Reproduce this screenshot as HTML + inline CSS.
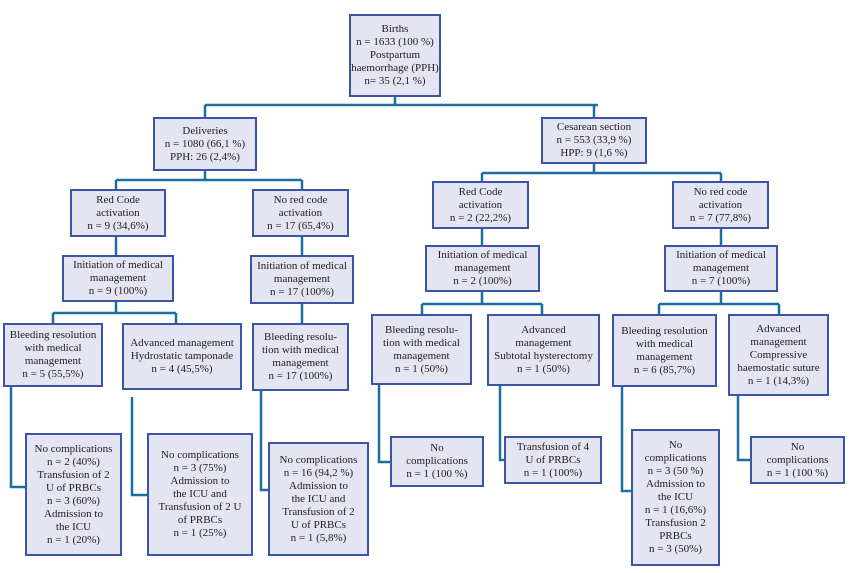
<!DOCTYPE html>
<html><head><meta charset="utf-8"><style>
body{margin:0;width:850px;height:573px;background:#fff;position:relative;overflow:hidden;font-family:"Liberation Serif",serif;}
.b{position:absolute;box-sizing:border-box;background:#e4e4f2;border:2px solid #3b55a6;display:flex;align-items:center;justify-content:center;text-align:center;font-size:11px;line-height:13px;color:#222;}
svg{position:absolute;left:0;top:0}
</style></head><body>
<svg width="850" height="573"><g stroke="#1a6fa0" stroke-width="2.5" fill="none">
<path d="M395 97V105M205 105H598M205 105V117M594 105V117"/>
<path d="M205 171V180M116 180H302M116 180V189M302 180V189"/>
<path d="M116 237V255M302 237V255"/>
<path d="M116 302V313M53 313H176M53 313V323M176 313V323M302 304V323"/>
<path d="M11 387V487H25M132 397V495H147M261 391V490H268"/>
<path d="M594 164V173M482 173H721M482 173V181M721 173V181"/>
<path d="M482 229V245M721 229V245M482 292V304M422 304H542M422 304V314M542 304V314M721 292V304M659 304H779M659 304V314M779 304V314"/>
<path d="M379 385V462H390M500 385V460H504M622 387V491H631M738 396V460H750"/>
</g></svg>
<div class="b" style="left:349px;top:14px;width:92px;height:83px">Births<br>n = 1633 (100 %)<br>Postpartum<br>haemorrhage (PPH)<br>n= 35 (2,1 %)</div>
<div class="b" style="left:153px;top:117px;width:104px;height:54px">Deliveries<br>n = 1080 (66,1 %)<br>PPH: 26 (2,4%)</div>
<div class="b" style="left:541px;top:117px;width:106px;height:47px">Cesarean section<br>n = 553 (33,9 %)<br>HPP: 9 (1,6 %)</div>
<div class="b" style="left:70px;top:189px;width:96px;height:48px">Red Code<br>activation<br>n = 9 (34,6%)</div>
<div class="b" style="left:252px;top:189px;width:97px;height:48px">No red code<br>activation<br>n = 17 (65,4%)</div>
<div class="b" style="left:62px;top:255px;width:112px;height:47px">Initiation of medical<br>management<br>n = 9 (100%)</div>
<div class="b" style="left:250px;top:255px;width:104px;height:49px">Initiation of medical<br>management<br>n = 17 (100%)</div>
<div class="b" style="left:3px;top:323px;width:100px;height:64px">Bleeding resolution<br>with medical<br>management<br>n = 5 (55,5%)</div>
<div class="b" style="left:122px;top:323px;width:120px;height:67px">Advanced management<br>Hydrostatic tamponade<br>n = 4 (45,5%)</div>
<div class="b" style="left:252px;top:323px;width:97px;height:68px">Bleeding resolu-<br>tion with medical<br>management<br>n = 17 (100%)</div>
<div class="b" style="left:25px;top:433px;width:97px;height:123px">No complications<br>n = 2 (40%)<br>Transfusion of 2<br>U of PRBCs<br>n = 3 (60%)<br>Admission to<br>the ICU<br>n = 1 (20%)</div>
<div class="b" style="left:147px;top:433px;width:106px;height:123px">No complications<br>n = 3 (75%)<br>Admission to<br>the ICU and<br>Transfusion of 2 U<br>of PRBCs<br>n = 1 (25%)</div>
<div class="b" style="left:268px;top:442px;width:101px;height:114px">No complications<br>n = 16 (94,2 %)<br>Admission to<br>the ICU and<br>Transfusion of 2<br>U of PRBCs<br>n = 1 (5,8%)</div>
<div class="b" style="left:432px;top:181px;width:97px;height:48px">Red Code<br>activation<br>n = 2 (22,2%)</div>
<div class="b" style="left:672px;top:181px;width:97px;height:48px">No red code<br>activation<br>n = 7 (77,8%)</div>
<div class="b" style="left:425px;top:245px;width:115px;height:47px">Initiation of medical<br>management<br>n = 2 (100%)</div>
<div class="b" style="left:664px;top:245px;width:114px;height:47px">Initiation of medical<br>management<br>n = 7 (100%)</div>
<div class="b" style="left:371px;top:314px;width:101px;height:71px">Bleeding resolu-<br>tion with medical<br>management<br>n = 1 (50%)</div>
<div class="b" style="left:487px;top:314px;width:113px;height:72px">Advanced<br>management<br>Subtotal hysterectomy<br>n = 1 (50%)</div>
<div class="b" style="left:612px;top:314px;width:105px;height:73px">Bleeding resolution<br>with medical<br>management<br>n = 6 (85,7%)</div>
<div class="b" style="left:728px;top:314px;width:101px;height:82px">Advanced<br>management<br>Compressive<br>haemostatic suture<br>n = 1 (14,3%)</div>
<div class="b" style="left:390px;top:436px;width:94px;height:51px">No<br>complications<br>n = 1 (100 %)</div>
<div class="b" style="left:504px;top:436px;width:98px;height:48px">Transfusion of 4<br>U of PRBCs<br>n = 1 (100%)</div>
<div class="b" style="left:631px;top:429px;width:89px;height:137px">No<br>complications<br>n = 3 (50 %)<br>Admission to<br>the ICU<br>n = 1 (16,6%)<br>Transfusion 2<br>PRBCs<br>n = 3 (50%)</div>
<div class="b" style="left:750px;top:436px;width:95px;height:48px">No<br>complications<br>n = 1 (100 %)</div>
</body></html>
